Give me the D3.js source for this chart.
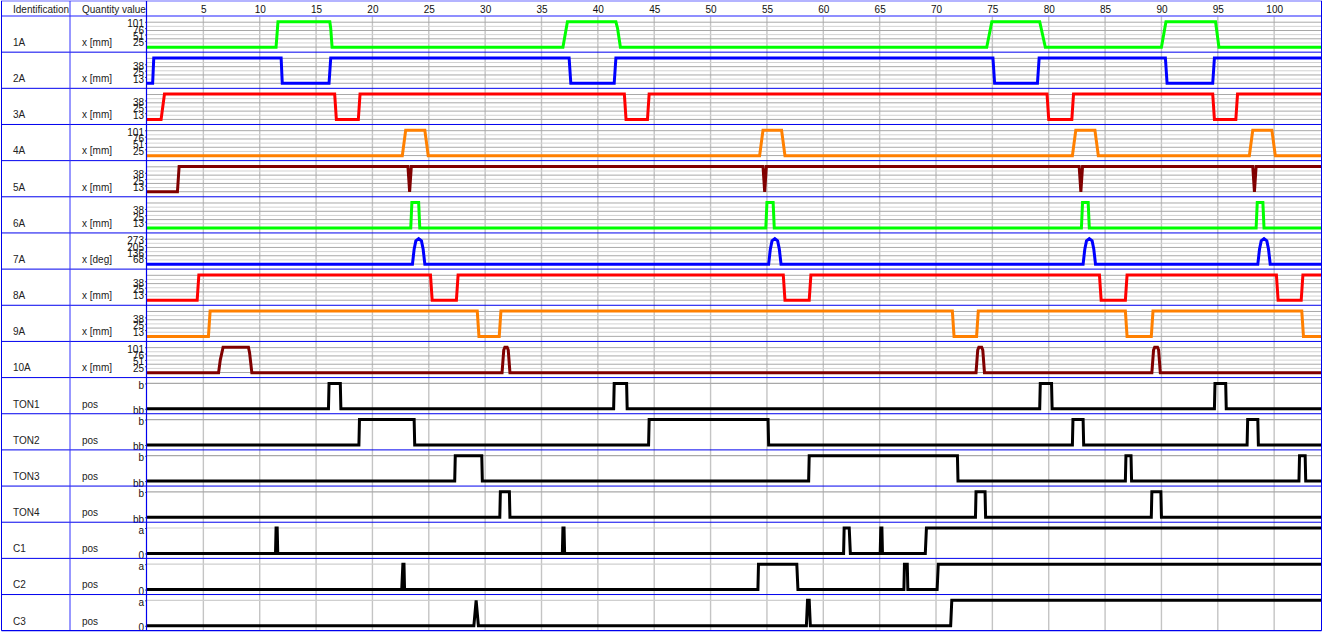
<!DOCTYPE html>
<html><head><meta charset="utf-8">
<script src="https://cdn.jsdelivr.net/npm/d3@7"></script>
<style>
body{margin:0;background:#fff}
svg{display:block;font-family:"Liberation Sans",Arial,sans-serif}
</style>
</head><body>
<svg id="chart" width="1335" height="637"></svg>
<script>
// ---------- data ----------
const headerTitles = ["Identification", "Quantity value"];
const xTicks = [5,10,15,20,25,30,35,40,45,50,55,60,65,70,75,80,85,90,95,100];
const xDomain = [0, 104.2];

const rowIds = ["1A","2A","3A","4A","5A","6A","7A","8A","9A","10A","TON1","TON2","TON3","TON4","C1","C2","C3"];
const rowQuantities = ["x [mm]","x [mm]","x [mm]","x [mm]","x [mm]","x [mm]","x [deg]","x [mm]","x [mm]","x [mm]","pos","pos","pos","pos","pos","pos","pos"];
const rowColors = ["#00ff00","#0000ff","#ff0000","#ff8000","#800000","#00ff00","#0000ff","#ff0000","#ff8000","#800000","#000","#000","#000","#000","#000","#000","#000"];
const rowMax = [101.6,50.8,50.8,101.6,50.8,50.8,273,50.8,50.8,101.6,1,1,1,1,1,1,1];
const tickVals101 = [25.4,50.8,76.2,101.6], tickLab101 = ["25","51","76","101"];
const tickVals38 = [12.7,25.4,38.1], tickLab38 = ["13","25","38"];
const tickVals273 = [68.25,136.5,204.75,273], tickLab273 = ["68","136","205","273"];
const tickValsBin = [0,1], tickLabTon = ["bb","b"], tickLabC = ["0","a"];

const s1A = [[0,0],[11.45,0],[11.62,101.6],[16.22,101.6],[16.3,75],[16.42,0],[36.9,0],[37.3,101.6],[41.6,101.6],[41.75,75],[42.0,0],[74.5,0],[74.95,101.6],[79.2,101.6],[79.7,0],[90.0,0],[90.4,101.6],[94.8,101.6],[95.1,0],[104.2,0]];
const s2A = [[0,0],[0.5,0],[0.6,50.8],[11.9,50.8],[12.0,0],[16.15,0],[16.3,50.8],[37.45,50.8],[37.6,0],[41.45,0],[41.6,50.8],[75.05,50.8],[75.2,0],[79.0,0],[79.15,50.8],[90.35,50.8],[90.5,0],[94.55,0],[94.7,50.8],[104.2,50.8]];
const s3A = [[0,0],[1.25,0],[1.55,50.8],[16.65,50.8],[16.8,0],[18.75,0],[18.9,50.8],[42.35,50.8],[42.5,0],[44.4,0],[44.55,50.8],[79.85,50.8],[80.0,0],[82.05,0],[82.2,50.8],[94.55,50.8],[94.7,0],[96.6,0],[96.75,50.8],[104.2,50.8]];
const s4A = [[0,0],[22.65,0],[22.95,101.6],[24.65,101.6],[24.95,0],[54.35,0],[54.65,101.6],[56.3,101.6],[56.6,0],[82.1,0],[82.4,101.6],[84.1,101.6],[84.4,0],[97.8,0],[98.1,101.6],[99.8,101.6],[100.1,0],[104.2,0]];
const s5A = [[0,0],[2.7,0],[2.85,50.8],[23.15,50.8],[23.3,0],[23.45,50.8],[54.65,50.8],[54.8,0],[54.95,50.8],[82.7,50.8],[82.85,0],[83.0,50.8],[98.1,50.8],[98.25,0],[98.4,50.8],[104.2,50.8]];
const s6A = [[0,0],[23.4,0],[23.5,50.8],[24.1,50.8],[24.2,0],[54.9,0],[55.0,50.8],[55.55,50.8],[55.65,0],[82.9,0],[83.0,50.8],[83.5,50.8],[83.6,0],[98.4,0],[98.5,50.8],[99.0,50.8],[99.1,0],[104.2,0]];
const s7A = [[0,0],[23.55,0],[23.7,160],[23.85,250],[24.1,273],[24.35,250],[24.5,160],[24.65,0],[55.15,0],[55.3,160],[55.45,250],[55.7,273],[55.95,250],[56.1,160],[56.25,0],[83.05,0],[83.2,160],[83.35,250],[83.6,273],[83.85,250],[84.0,160],[84.15,0],[98.55,0],[98.7,160],[98.85,250],[99.1,273],[99.35,250],[99.5,160],[99.65,0],[104.2,0]];
const s8A = [[0,0],[4.45,0],[4.6,50.8],[25.15,50.8],[25.3,0],[27.45,0],[27.6,50.8],[56.45,50.8],[56.6,0],[58.75,0],[58.9,50.8],[84.5,50.8],[84.65,0],[86.8,0],[86.95,50.8],[100.2,50.8],[100.35,0],[102.4,0],[102.55,50.8],[104.2,50.8]];
const s9A = [[0,0],[5.45,0],[5.6,50.8],[29.3,50.8],[29.45,0],[31.25,0],[31.4,50.8],[71.45,50.8],[71.6,0],[73.6,0],[73.75,50.8],[86.8,50.8],[86.95,0],[89.1,0],[89.25,50.8],[102.45,50.8],[102.6,0],[104.2,0]];
const s10A = [[0,0],[6.35,0],[6.5,50],[6.75,101.6],[9.0,101.6],[9.1,80],[9.3,0],[31.5,0],[31.65,90],[31.75,101.6],[31.95,101.6],[32.05,90],[32.2,0],[73.55,0],[73.7,90],[73.8,101.6],[74.05,101.6],[74.15,90],[74.3,0],[89.15,0],[89.3,90],[89.4,101.6],[89.65,101.6],[89.75,90],[89.9,0],[104.2,0]];
const sTON1 = [[0,0],[16.1,0],[16.15,1],[17.15,1],[17.2,0],[41.4,0],[41.45,1],[42.55,1],[42.6,0],[79.2,0],[79.25,1],[80.25,1],[80.3,0],[94.7,0],[94.75,1],[95.7,1],[95.75,0],[104.2,0]];
const sTON2 = [[0,0],[18.8,0],[18.85,1],[23.7,1],[23.75,0],[44.5,0],[44.55,1],[55.1,1],[55.15,0],[82.1,0],[82.15,1],[83.05,1],[83.1,0],[97.6,0],[97.65,1],[98.55,1],[98.6,0],[104.2,0]];
const sTON3 = [[0,0],[27.3,0],[27.35,1],[29.7,1],[29.75,0],[58.7,0],[58.75,1],[71.9,1],[71.95,0],[86.8,0],[86.85,1],[87.3,1],[87.35,0],[102.2,0],[102.25,1],[102.75,1],[102.8,0],[104.2,0]];
const sTON4 = [[0,0],[31.3,0],[31.35,1],[32.15,1],[32.2,0],[73.5,0],[73.55,1],[74.35,1],[74.4,0],[89.1,0],[89.15,1],[89.95,1],[90.0,0],[104.2,0]];
const sC1 = [[0,0],[11.4,0],[11.45,1],[11.55,1],[11.6,0],[36.85,0],[36.9,1],[37.0,1],[37.05,0],[61.8,0],[61.85,1],[62.3,1],[62.4,0],[65.05,0],[65.1,1],[65.2,1],[65.25,0],[69.05,0],[69.15,1],[104.2,1]];
const sC2 = [[0,0],[22.6,0],[22.7,1],[22.8,1],[22.85,0],[54.2,0],[54.25,1],[57.65,1],[57.75,0],[67.15,0],[67.2,1],[67.45,1],[67.5,0],[70.1,0],[70.2,1],[104.2,1]];
const sC3 = [[0,0],[29.0,0],[29.2,1],[29.4,0],[58.5,0],[58.6,1],[58.75,1],[58.85,0],[71.3,0],[71.4,1],[104.2,1]];

const rowSeries = [s1A,s2A,s3A,s4A,s5A,s6A,s7A,s8A,s9A,s10A,sTON1,sTON2,sTON3,sTON4,sC1,sC2,sC3];
const rowTickVals = [tickVals101,tickVals38,tickVals38,tickVals101,tickVals38,tickVals38,tickVals273,tickVals38,tickVals38,tickVals101,tickValsBin,tickValsBin,tickValsBin,tickValsBin,tickValsBin,tickValsBin,tickValsBin];
const rowTickLabs = [tickLab101,tickLab38,tickLab38,tickLab101,tickLab38,tickLab38,tickLab273,tickLab38,tickLab38,tickLab101,tickLabTon,tickLabTon,tickLabTon,tickLabTon,tickLabC,tickLabC,tickLabC];

// ---------- layout ----------
const W = 1335, H = 637;
const plotL = 147, plotR = 1321.5, headerB = 16, bottom = 630.7;
const col1 = 70;
const rowH = (bottom - headerB) / rowIds.length;

const svg = d3.select("#chart");
svg.append("rect").attr("width", W).attr("height", H).attr("fill", "#fff");

const x = d3.scaleLinear().domain(xDomain).range([plotL, plotR]);

svg.append("defs").append("clipPath").attr("id", "plotclip")
  .append("rect").attr("x", plotL).attr("y", headerB).attr("width", plotR - plotL).attr("height", bottom - headerB);

// vertical grid lines
svg.append("g").selectAll("line").data(xTicks).join("line")
  .attr("x1", d => x(d)).attr("x2", d => x(d))
  .attr("y1", headerB).attr("y2", bottom)
  .attr("stroke", "#c4c4c4").attr("stroke-width", 1.4);

// header axis
const xAxis = svg.append("g").attr("transform", `translate(0,${headerB})`)
  .call(d3.axisTop(x).tickValues(xTicks).tickSize(0).tickPadding(3));
xAxis.select(".domain").remove();
xAxis.selectAll("text").attr("font-size", 10).attr("fill", "#111").attr("font-family", "Liberation Sans, Arial, sans-serif");

// header titles
svg.append("text").attr("x", 13).attr("y", 12.5).attr("font-size", 10).attr("fill", "#222").text(headerTitles[0]);
svg.append("text").attr("x", 82).attr("y", 12.5).attr("font-size", 10).attr("fill", "#222").text(headerTitles[1]);

const line = d3.line();

rowIds.forEach((id, i) => {
  const top = headerB + i * rowH;
  const y = d3.scaleLinear().domain([0, rowMax[i]]).range([top + 31.2, top + 5.8]);
  const g = svg.append("g");
  const isA = i < 10;

  // horizontal grid
  if (isA) {
    const fr = d3.range(0, 7);
    g.selectAll("line.hg").data(fr).join("line").attr("class", "hg")
      .attr("x1", plotL).attr("x2", plotR)
      .attr("y1", k => top + 6.2 + k * 4.15).attr("y2", k => top + 6.2 + k * 4.15)
      .attr("stroke", k => k % 2 === 0 ? "#a8a8a8" : "#d2d2d2").attr("stroke-width", 1);
  } else {
    g.append("line").attr("x1", plotL).attr("x2", plotR)
      .attr("y1", y(1)).attr("y2", y(1))
      .attr("stroke", i < 14 ? "#a8a8a8" : "#cfcfcf").attr("stroke-width", 1.2);
  }

  // labels
  g.append("text").attr("x", 13).attr("y", top + 30).attr("font-size", 10).attr("fill", "#222").text(id);
  g.append("text").attr("x", 82).attr("y", top + 30).attr("font-size", 10).attr("fill", "#222").text(rowQuantities[i]);

  // y axis
  const labs = rowTickLabs[i];
  const ax = g.append("g").attr("transform", `translate(${plotL},0)`)
    .call(d3.axisLeft(y).tickValues(rowTickVals[i]).tickFormat((d, j) => labs[j]).tickSize(2).tickPadding(1));
  ax.select(".domain").remove();
  ax.selectAll("line").attr("stroke", "#555");
  ax.selectAll("text").attr("font-size", 10).attr("fill", "#111").attr("dy", "0.5em")
    .attr("font-family", "Liberation Sans, Arial, sans-serif");

  // signal
  g.append("path").datum(rowSeries[i])
    .attr("clip-path", "url(#plotclip)")
    .attr("d", line.x(d => x(d[0])).y(d => y(d[1])))
    .attr("fill", "none").attr("stroke", rowColors[i]).attr("stroke-width", 3)
    .attr("stroke-miterlimit", 2);
});

// row separators
const seps = d3.range(1, rowIds.length).map(k => headerB + k * rowH);
svg.append("g").selectAll("line").data(seps).join("line")
  .attr("x1", 1.5).attr("x2", plotR).attr("y1", d => d).attr("y2", d => d)
  .attr("stroke", "#0000ee").attr("stroke-width", 1);

// frame lines
const frame = svg.append("g").attr("fill", "none");
frame.append("line").attr("x1", 1).attr("x2", plotR + 0.5).attr("y1", 1).attr("y2", 1).attr("stroke", "#6a6aff").attr("stroke-width", 1.2);
frame.append("line").attr("x1", 1).attr("x2", plotR + 0.5).attr("y1", headerB).attr("y2", headerB).attr("stroke", "#6a6aff").attr("stroke-width", 1.4);
frame.append("line").attr("x1", 1.5).attr("x2", 1.5).attr("y1", 1).attr("y2", bottom).attr("stroke", "#0000ee").attr("stroke-width", 1);
frame.append("line").attr("x1", col1).attr("x2", col1).attr("y1", 1).attr("y2", bottom).attr("stroke", "#3030ff").attr("stroke-width", 1);
frame.append("line").attr("x1", plotL - 0.5).attr("x2", plotL - 0.5).attr("y1", 1).attr("y2", bottom).attr("stroke", "#0000ee").attr("stroke-width", 1.2);
frame.append("line").attr("x1", plotR).attr("x2", plotR).attr("y1", 1).attr("y2", bottom).attr("stroke", "#0000ee").attr("stroke-width", 1);
frame.append("line").attr("x1", 1.5).attr("x2", plotR).attr("y1", bottom).attr("y2", bottom).attr("stroke", "#0000ee").attr("stroke-width", 1.2);
</script>
</body></html>
